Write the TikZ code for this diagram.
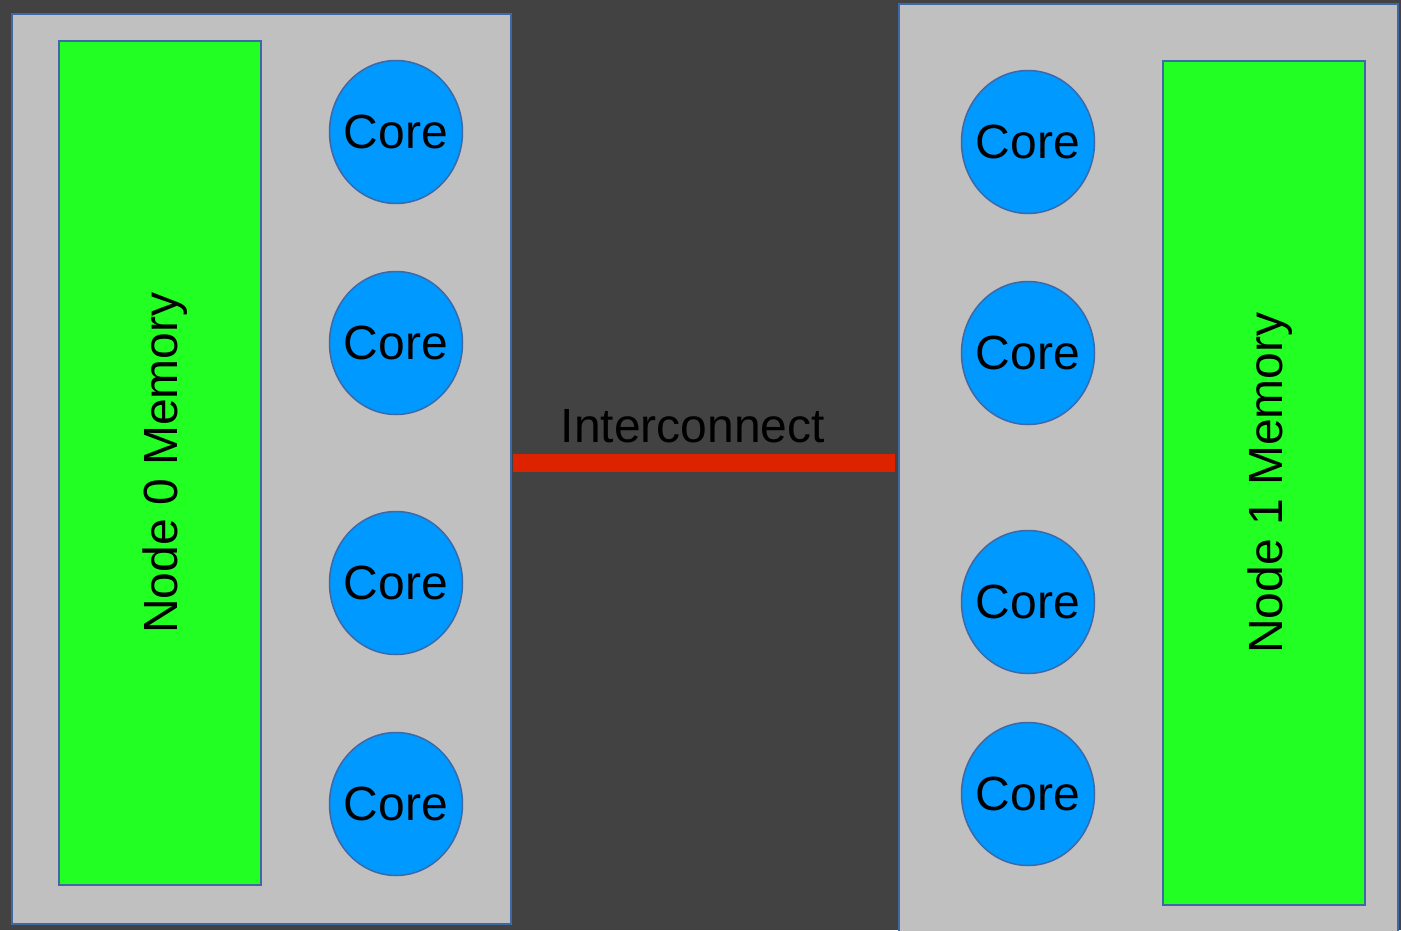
\documentclass[tikz,border=0pt]{standalone}
\usepackage{fontspec}
\setmainfont{Liberation Sans}
\usepackage{tikz}
\usetikzlibrary{positioning,calc,shapes.geometric}
\definecolor{darkbg}{RGB}{66,66,66}
\definecolor{boxgray}{RGB}{192,192,192}
\definecolor{edgeblue}{RGB}{62,104,166}
\definecolor{memgreen}{RGB}{34,255,34}
\definecolor{coreblue}{RGB}{0,153,255}
\definecolor{linkred}{RGB}{221,34,0}

\begin{document}
\begin{tikzpicture}[
  x=1pt,y=-1pt,
  numa/.style={draw=edgeblue,line width=1.5pt,fill=boxgray,inner sep=0pt,anchor=north west},
  mem/.style={draw=edgeblue,line width=1.5pt,fill=memgreen,inner sep=0pt,minimum width=202pt,minimum height=844pt},
  core/.style={ellipse,draw=edgeblue,line width=1.5pt,fill=coreblue,inner xsep=-12pt,inner ysep=0pt,minimum width=133pt,minimum height=143pt,font=\fontsize{48}{52}\selectfont},
  memlabel/.style={rotate=90,font=\fontsize{48}{52}\selectfont},
  link/.style={draw=linkred,line width=18pt}
]
\useasboundingbox (0,0) rectangle (1401,930);
\clip (0,0) rectangle (1401,930);
\fill[darkbg] (0,0) rectangle (1401,930);

% NUMA node 0
\node[numa,minimum width=499pt,minimum height=910pt] (node0) at (11,13) {};
\node[mem] (mem0) at (160,463) {};
\node[memlabel] (lbl0) at ($(mem0)+(5,0)$) {Node 0 Memory};
\node[core] (c00) at (396,132) {Core};
\node[core] (c01) at (396,343) {Core};
\node[core] (c02) at (396,583) {Core};
\node[core] (c03) at (396,804) {Core};

% NUMA node 1
\node[numa,minimum width=499pt,minimum height=940pt] (node1) at (898,3) {};
\node[mem] (mem1) at (1264,483) {};
\node[memlabel] (lbl1) at ($(mem1)+(6,0)$) {Node 1 Memory};
\node[core] (c10) at (1028,142) {Core};
\node[core] (c11) at (1028,353) {Core};
\node[core] (c12) at (1028,602) {Core};
\node[core] (c13) at (1028,794) {Core};

% interconnect
\coordinate (bus) at (0,463);
\draw[link] ($(node0.east |- bus)+(1,0)$) -- ($(node1.west |- bus)+(-3,0)$)
  node[midway,above=8pt,font=\fontsize{48}{52}\selectfont,xshift=-11pt] {Interconnect};
\end{tikzpicture}
\end{document}
